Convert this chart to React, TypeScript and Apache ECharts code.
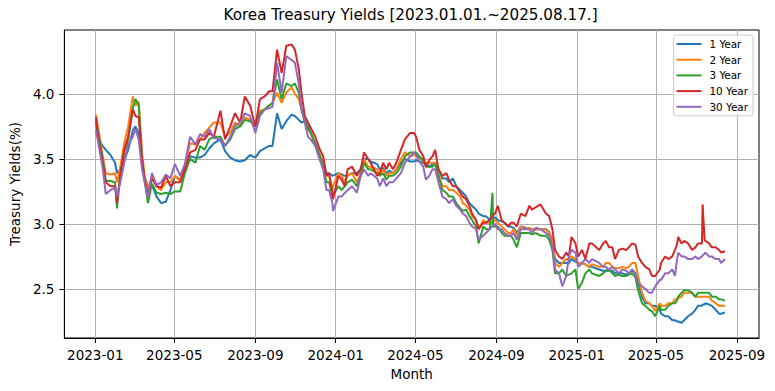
import React, { useEffect, useRef } from "react";
import * as echarts from "echarts";

const dates: string[] = [
  "2023-01-02","2023-01-06","2023-01-12","2023-01-17","2023-01-24","2023-01-31","2023-02-03","2023-02-08","2023-02-14","2023-02-20",
  "2023-02-27","2023-03-03","2023-03-08","2023-03-13","2023-03-17","2023-03-22","2023-03-28","2023-04-04","2023-04-11","2023-04-18",
  "2023-04-25","2023-05-02","2023-05-10","2023-05-17","2023-05-25","2023-06-02","2023-06-09","2023-06-16","2023-06-23","2023-06-30",
  "2023-07-10","2023-07-17","2023-07-25","2023-08-01","2023-08-09","2023-08-16","2023-08-24","2023-09-01","2023-09-08","2023-09-15",
  "2023-09-22","2023-09-27","2023-10-04","2023-10-11","2023-10-18","2023-10-26","2023-10-31","2023-11-06","2023-11-10","2023-11-15",
  "2023-11-20","2023-11-24","2023-12-01","2023-12-08","2023-12-13","2023-12-18","2023-12-22","2023-12-27","2023-12-28","2024-01-05",
  "2024-01-10","2024-01-15","2024-01-19","2024-01-26","2024-02-02","2024-02-08","2024-02-13","2024-02-19","2024-02-23","2024-03-04",
  "2024-03-08","2024-03-13","2024-03-18","2024-03-22","2024-03-28","2024-04-02","2024-04-09","2024-04-15","2024-04-23","2024-04-29",
  "2024-05-02","2024-05-07","2024-05-13","2024-05-17","2024-05-22","2024-05-27","2024-05-31","2024-06-05","2024-06-11","2024-06-17",
  "2024-06-21","2024-06-27","2024-07-02","2024-07-08","2024-07-12","2024-07-17","2024-07-22","2024-07-26","2024-08-01","2024-08-05",
  "2024-08-12","2024-08-16","2024-08-22","2024-08-23","2024-08-26","2024-08-27","2024-08-30","2024-09-03","2024-09-09","2024-09-13",
  "2024-09-19","2024-09-23","2024-09-27","2024-10-02","2024-10-08","2024-10-15","2024-10-21","2024-10-25","2024-10-31","2024-11-07",
  "2024-11-15","2024-11-20","2024-11-25","2024-11-29","2024-12-05","2024-12-10","2024-12-16","2024-12-20","2024-12-24","2024-12-30",
  "2025-01-03","2025-01-09","2025-01-14","2025-01-20","2025-01-24","2025-02-04","2025-02-10","2025-02-14","2025-02-19","2025-02-24",
  "2025-02-28","2025-03-06","2025-03-11","2025-03-17","2025-03-21","2025-03-26","2025-03-31","2025-04-04","2025-04-10","2025-04-15",
  "2025-04-21","2025-04-25","2025-04-30","2025-05-07","2025-05-09","2025-05-15","2025-05-20","2025-05-26","2025-05-30","2025-06-02",
  "2025-06-04","2025-06-09","2025-06-13","2025-06-19","2025-06-25","2025-06-30","2025-07-04","2025-07-10","2025-07-11","2025-07-14",
  "2025-07-15","2025-07-21","2025-07-25","2025-07-31","2025-08-05","2025-08-08","2025-08-14",
];

const yield1Y: number[] = [
  3.78,3.66,3.60,3.57,3.53,3.47,3.39,3.42,3.49,3.57,
  3.72,3.75,3.70,3.47,3.35,3.29,3.30,3.21,3.16,3.17,
  3.26,3.37,3.34,3.43,3.52,3.51,3.51,3.53,3.58,3.62,
  3.65,3.56,3.51,3.49,3.48,3.49,3.53,3.51,3.56,3.58,
  3.60,3.60,3.85,3.73,3.79,3.84,3.83,3.80,3.78,3.79,
  3.75,3.70,3.61,3.52,3.47,3.39,3.39,3.37,3.37,3.39,
  3.38,3.37,3.37,3.39,3.39,3.42,3.50,3.50,3.48,3.46,
  3.42,3.43,3.39,3.41,3.39,3.42,3.47,3.50,3.48,3.48,
  3.49,3.48,3.47,3.46,3.44,3.46,3.47,3.42,3.35,3.35,
  3.32,3.35,3.29,3.26,3.24,3.21,3.16,3.14,3.11,3.08,
  3.06,3.06,3.03,3.04,3.05,3.05,3.05,3.03,3.02,3.01,
  2.98,2.98,2.97,2.93,2.98,2.97,2.96,2.96,2.96,2.96,
  2.96,2.94,2.85,2.73,2.70,2.70,2.70,2.70,2.73,2.71,
  2.70,2.70,2.69,2.67,2.67,2.65,2.64,2.64,2.64,2.64,
  2.62,2.62,2.62,2.61,2.62,2.64,2.62,2.55,2.44,2.39,
  2.39,2.37,2.37,2.34,2.31,2.29,2.29,2.26,2.26,2.25,
  2.25,2.24,2.26,2.29,2.31,2.34,2.37,2.37,2.38,2.38,
  2.39,2.38,2.37,2.34,2.31,2.31,2.32,
];

const yield2Y: number[] = [
  3.84,3.72,3.53,3.39,3.38,3.39,3.32,3.44,3.62,3.75,
  3.98,3.91,3.94,3.55,3.37,3.26,3.37,3.29,3.26,3.32,
  3.32,3.37,3.33,3.44,3.62,3.61,3.65,3.70,3.74,3.78,
  3.78,3.67,3.70,3.78,3.75,3.82,3.80,3.75,3.87,3.88,
  3.91,3.93,4.01,3.93,4.01,4.05,4.00,3.96,3.88,3.80,
  3.73,3.70,3.62,3.53,3.47,3.37,3.37,3.26,3.29,3.39,
  3.37,3.32,3.37,3.39,3.32,3.39,3.50,3.44,3.44,3.42,
  3.37,3.42,3.37,3.39,3.39,3.42,3.50,3.55,3.52,3.53,
  3.53,3.51,3.48,3.47,3.47,3.47,3.47,3.39,3.29,3.29,
  3.26,3.26,3.24,3.21,3.16,3.14,3.11,3.06,3.03,2.96,
  3.03,3.01,3.01,3.00,3.02,3.02,3.03,3.01,2.98,2.96,
  2.93,2.93,2.96,2.91,2.98,2.96,2.97,2.96,2.96,2.96,
  2.96,2.93,2.88,2.70,2.67,2.70,2.73,2.73,2.75,2.73,
  2.70,2.70,2.69,2.67,2.69,2.67,2.67,2.70,2.70,2.67,
  2.66,2.66,2.67,2.66,2.67,2.70,2.70,2.60,2.47,2.41,
  2.39,2.37,2.33,2.39,2.37,2.37,2.39,2.39,2.42,2.42,
  2.43,2.44,2.47,2.47,2.47,2.44,2.44,2.44,2.44,2.44,
  2.44,2.44,2.41,2.39,2.37,2.37,2.37,
];

const yield3Y: number[] = [
  3.80,3.69,3.51,3.33,3.33,3.32,3.12,3.39,3.55,3.65,
  3.89,3.96,3.91,3.50,3.33,3.16,3.31,3.24,3.23,3.24,
  3.23,3.25,3.25,3.39,3.50,3.47,3.60,3.57,3.65,3.67,
  3.67,3.60,3.65,3.73,3.75,3.80,3.79,3.75,3.85,3.88,
  3.91,3.93,4.11,3.96,4.08,4.06,4.08,4.01,3.88,3.80,
  3.73,3.70,3.62,3.52,3.44,3.32,3.32,3.21,3.21,3.29,
  3.26,3.29,3.32,3.34,3.29,3.37,3.47,3.42,3.42,3.39,
  3.37,3.39,3.34,3.37,3.37,3.39,3.44,3.52,3.55,3.55,
  3.55,3.52,3.49,3.44,3.44,3.44,3.46,3.37,3.26,3.24,
  3.21,3.21,3.16,3.12,3.10,3.11,3.06,3.03,2.98,2.85,
  2.98,2.96,2.96,2.96,3.24,2.98,2.98,2.98,2.93,2.91,
  2.91,2.91,2.88,2.82,2.93,2.93,2.93,2.92,2.93,2.91,
  2.91,2.88,2.80,2.62,2.62,2.65,2.60,2.61,2.62,2.65,
  2.50,2.55,2.62,2.65,2.62,2.60,2.62,2.64,2.65,2.62,
  2.60,2.61,2.60,2.60,2.61,2.62,2.59,2.49,2.39,2.37,
  2.34,2.33,2.29,2.37,2.34,2.34,2.37,2.39,2.39,2.41,
  2.44,2.47,2.49,2.49,2.47,2.44,2.47,2.47,2.47,2.47,
  2.47,2.47,2.44,2.44,2.42,2.42,2.41,
];

const yield10Y: number[] = [
  3.82,3.65,3.48,3.32,3.29,3.29,3.16,3.37,3.57,3.67,
  3.88,3.83,3.82,3.49,3.34,3.23,3.35,3.29,3.28,3.37,
  3.29,3.32,3.32,3.42,3.55,3.57,3.65,3.65,3.70,3.67,
  3.87,3.65,3.75,3.85,3.78,3.98,3.91,3.75,3.96,3.98,
  4.02,4.02,4.34,4.16,4.37,4.38,4.34,4.19,4.01,3.83,
  3.78,3.74,3.67,3.57,3.52,3.37,3.39,3.24,3.19,3.37,
  3.34,3.29,3.42,3.44,3.37,3.42,3.55,3.50,3.47,3.37,
  3.39,3.47,3.42,3.47,3.42,3.47,3.57,3.65,3.70,3.70,
  3.67,3.57,3.52,3.44,3.49,3.52,3.57,3.42,3.37,3.39,
  3.34,3.29,3.29,3.24,3.21,3.19,3.14,3.08,3.03,2.96,
  3.01,3.01,3.03,3.04,3.06,3.07,3.08,3.14,3.03,3.01,
  2.98,3.01,3.01,2.98,3.08,3.06,3.14,3.11,3.13,3.15,
  3.08,3.06,2.96,2.80,2.75,2.73,2.78,2.75,2.90,2.85,
  2.75,2.80,2.73,2.85,2.85,2.80,2.85,2.87,2.82,2.82,
  2.73,2.80,2.81,2.80,2.82,2.85,2.84,2.75,2.70,2.67,
  2.65,2.60,2.60,2.65,2.70,2.75,2.73,2.75,2.80,2.84,
  2.90,2.85,2.87,2.85,2.80,2.82,2.85,2.85,3.15,2.88,
  2.87,2.85,2.82,2.82,2.80,2.78,2.79,
];

const yield30Y: number[] = [
  3.72,3.61,3.44,3.23,3.26,3.28,3.21,3.32,3.47,3.61,
  3.67,3.73,3.65,3.42,3.32,3.20,3.39,3.30,3.32,3.38,
  3.35,3.46,3.37,3.46,3.67,3.61,3.69,3.67,3.73,3.66,
  3.65,3.60,3.67,3.75,3.78,3.85,3.83,3.70,3.83,3.88,
  3.89,3.90,4.24,4.01,4.29,4.26,4.24,4.08,3.88,3.78,
  3.67,3.65,3.60,3.49,3.42,3.26,3.26,3.16,3.10,3.21,
  3.21,3.24,3.26,3.29,3.24,3.37,3.42,3.37,3.39,3.35,
  3.29,3.35,3.29,3.32,3.32,3.35,3.39,3.47,3.52,3.55,
  3.53,3.48,3.44,3.34,3.37,3.42,3.42,3.32,3.21,3.19,
  3.16,3.19,3.14,3.11,3.08,3.06,3.01,2.98,2.96,2.88,
  2.91,2.93,2.96,2.97,2.98,2.99,3.00,2.96,2.96,2.93,
  2.91,2.91,2.93,2.88,2.96,2.96,2.96,2.93,2.97,2.96,
  2.93,2.91,2.83,2.65,2.62,2.52,2.60,2.75,2.80,2.78,
  2.67,2.70,2.73,2.70,2.73,2.70,2.67,2.67,2.65,2.67,
  2.65,2.62,2.65,2.64,2.62,2.65,2.62,2.55,2.52,2.50,
  2.47,2.47,2.52,2.57,2.57,2.62,2.62,2.65,2.60,2.72,
  2.78,2.75,2.75,2.73,2.73,2.75,2.73,2.75,2.76,2.77,
  2.78,2.75,2.75,2.73,2.73,2.70,2.73,
];

const seriesNames = ["1 Year", "2 Year", "3 Year", "10 Year", "30 Year"];
const seriesValues = [yield1Y, yield2Y, yield3Y, yield10Y, yield30Y];
const seriesColors = ["#1f77b4", "#ff7f0e", "#2ca02c", "#d62728", "#9467bd"];
const yTickValues = [2.5, 3.0, 3.5, 4.0];
const xTickLabels = ["2023-01", "2023-05", "2023-09", "2024-01", "2024-05", "2024-09", "2025-01", "2025-05", "2025-09"];

const FONT = "DejaVu Sans";

function toTime(s: string): number {
  const p = s.split("-").map(Number);
  return new Date(p[0], p[1] - 1, p[2] || 1).getTime();
}

export default function App() {
  const ref = useRef<HTMLDivElement>(null);

  useEffect(() => {
    document.body.style.margin = "0";
    const chart = echarts.init(ref.current!, null, { renderer: "svg" });
    const DAY = 86400000;
    const base = new Date(2023, 0, 1).getTime();
    const xMin = base - 46.9 * DAY;
    const xMax = base + 1007.6 * DAY;
    const xTicks = xTickLabels.map(toTime);

    chart.setOption({
      animation: false,
      backgroundColor: "#ffffff",
      textStyle: { fontFamily: FONT },
      graphic: [
        {
          type: "text",
          x: 410.5,
          y: 15,
          style: {
            text: "Korea Treasury Yields [2023.01.01.~2025.08.17.]",
            fontSize: 15.2,
            fontFamily: FONT,
            fill: "#000",
            align: "center",
            verticalAlign: "middle",
          },
        },
      ],
      legend: {
        data: seriesNames,
        orient: "vertical",
        right: 22,
        top: 35,
        icon: "rect",
        itemWidth: 25,
        itemHeight: 2,
        itemGap: 3.7,
        padding: [3, 5, 3, 3],
        borderColor: "#cccccc",
        borderWidth: 1,
        borderRadius: 3,
        backgroundColor: "rgba(255,255,255,0.8)",
        textStyle: { fontSize: 10.4, fontFamily: FONT, color: "#000", lineHeight: 12, padding: [0, 0, 0, 3] },
      },
      grid: {
        left: 62,
        right: 16,
        top: 30,
        bottom: 53,
        show: true,
        borderColor: "#000",
        borderWidth: 1,
        backgroundColor: "transparent",
      },
      xAxis: {
        type: "value",
        min: xMin,
        max: xMax,
        name: "Month",
        nameLocation: "middle",
        nameGap: 29,
        nameTextStyle: { fontSize: 13.5, fontFamily: FONT, color: "#000" },
        axisLine: { show: true, onZero: false, lineStyle: { color: "#000", width: 1 } },
        axisTick: {
          show: true,
          length: 5,
          lineStyle: { color: "#000", width: 1 },
          customValues: xTicks,
        },
        axisLabel: {
          fontSize: 13.5,
          fontFamily: FONT,
          color: "#000",
          margin: 10,
          customValues: xTicks,
          formatter: (v: number) => {
            const d = new Date(v);
            return d.getFullYear() + "-" + String(d.getMonth() + 1).padStart(2, "0");
          },
        },
        splitLine: { show: true, lineStyle: { color: "#b0b0b0", width: 1 } },
      },
      yAxis: {
        type: "value",
        min: 2.123,
        max: 4.491,
        name: "Treasury Yields(%)",
        nameLocation: "middle",
        nameGap: 42,
        nameTextStyle: { fontSize: 13.5, fontFamily: FONT, color: "#000" },
        axisLine: { show: true, onZero: false, lineStyle: { color: "#000", width: 1 } },
        axisTick: {
          show: true,
          length: 5,
          lineStyle: { color: "#000", width: 1 },
          customValues: yTickValues,
        },
        axisLabel: {
          fontSize: 13.5,
          fontFamily: FONT,
          color: "#000",
          margin: 10,
          customValues: yTickValues,
          formatter: (v: number) => v.toFixed(1),
        },
        splitLine: { show: true, lineStyle: { color: "#b0b0b0", width: 1 } },
      },
      series: seriesNames.map((name, i) => ({
        name,
        type: "line",
        showSymbol: false,
        symbol: "none",
        color: seriesColors[i],
        lineStyle: { color: seriesColors[i], width: 2 },
        data: dates.map((d, j) => [toTime(d), seriesValues[i][j]]),
      })),
    });

    return () => chart.dispose();
  }, []);

  return <div ref={ref} style={{ position: "fixed", left: 0, top: 0, width: 775, height: 391 }} />;
}
